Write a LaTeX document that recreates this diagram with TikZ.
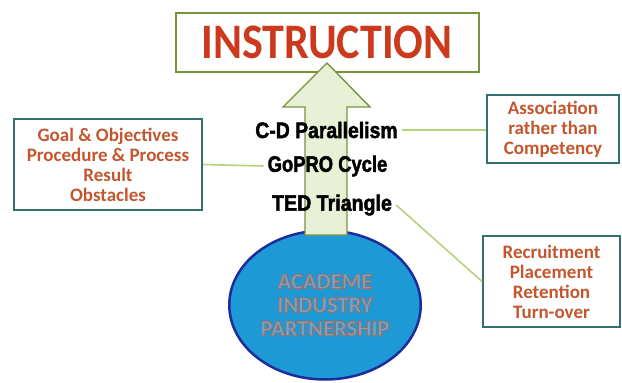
\documentclass[tikz,border=0pt]{standalone}
\usepackage{fontspec}
\setmainfont{Carlito}
\newfontfamily\heavyfont{Liberation Sans}[UprightFont=* Bold, BoldFont=* Bold, UprightFeatures={FakeBold=2.2}, BoldFeatures={FakeBold=2.2}]
\usepackage{xcolor}
\usepackage{graphicx}
\usetikzlibrary{shapes.geometric}

\definecolor{instrred}{HTML}{CC3A1E}
\definecolor{boxtext}{HTML}{C4562F}
\definecolor{olivegreen}{HTML}{77933C}
\definecolor{arrowfill}{HTML}{E8F1D6}
\definecolor{tealedge}{HTML}{31706E}
\definecolor{linkgreen}{HTML}{B7D07A}
\definecolor{discblue}{HTML}{1D99D6}
\definecolor{discedge}{HTML}{1C2C9E}

% outlined letters (fill and stroke)
\newcommand{\outlined}[1]{\special{pdf:literal direct 2 Tr 0.7 w 0.82 0.36 0.20 RG 0.36 0.68 0.88 rg}#1\special{pdf:literal direct 0 Tr}}

\begin{document}
\begin{tikzpicture}[x=1pt,y=-1pt,
    titlebox/.style={draw=olivegreen, line width=2pt, minimum width=303pt, minimum height=59pt,
        font=\bfseries\fontsize{44}{44}\selectfont, text=instrred},
    listbox/.style={draw=tealedge, line width=1.8pt, fill=white, align=center,
        font=\bfseries\fontsize{19}{20}\selectfont, text=boxtext},
    keyword/.style={font=\heavyfont\fontsize{20}{20}\selectfont, inner sep=4pt},
    link/.style={draw=linkgreen, line width=1.6pt}]

    \useasboundingbox (0,0) rectangle (622,383);

    % title
    \node[titlebox] (instr) at (327,42.5) {\scalebox{1}[1.13]{INSTRUCTION}};

    % partnership disc
    \node[ellipse, draw=discedge, line width=2.5pt, fill=discblue, minimum width=164pt, minimum height=149pt,
        align=center, font=\bfseries\fontsize{22.5}{23.5}\selectfont] (disc) at (325,305)
        {\outlined{ACADEME\\INDUSTRY\\PARTNERSHIP}};

    % arrow
    \draw[draw=olivegreen, line width=1.4pt, fill=arrowfill, line join=miter]
        (305,235) -- (305,107) -- (283,107) -- (327,63) -- (370,107) -- (347,107) -- (347,235) -- cycle;

    % keywords
    \node[keyword] (cdp) at (326.5,130) {\scalebox{0.97}[1.12]{C-D Parallelism}};
    \node[keyword] (gopro) at (327.5,166) {\scalebox{0.92}[1.12]{GoPRO Cycle}};
    \node[keyword] (ted) at (332,205) {\scalebox{0.98}[1.12]{TED Triangle}};

    % side boxes
    \node[listbox, minimum width=188pt, minimum height=91pt] (goal) at (108,164.5)
        {Goal \& Objectives\\Procedure \& Process\\Result\\Obstacles};
    \node[listbox, minimum width=132pt, minimum height=68pt] (assoc) at (553,129)
        {Association\\rather than\\Competency};
    \node[listbox, minimum width=137pt, minimum height=91pt] (recr) at (551.5,281.5)
        {Recruitment\\Placement\\Retention\\Turn-over};

    % links
    \draw[link] (goal.east) -- (gopro.west);
    \draw[link] (cdp.east) -- (cdp.east -| assoc.west);
    \draw[link] (ted.east) -- (recr.west);
\end{tikzpicture}
\end{document}
